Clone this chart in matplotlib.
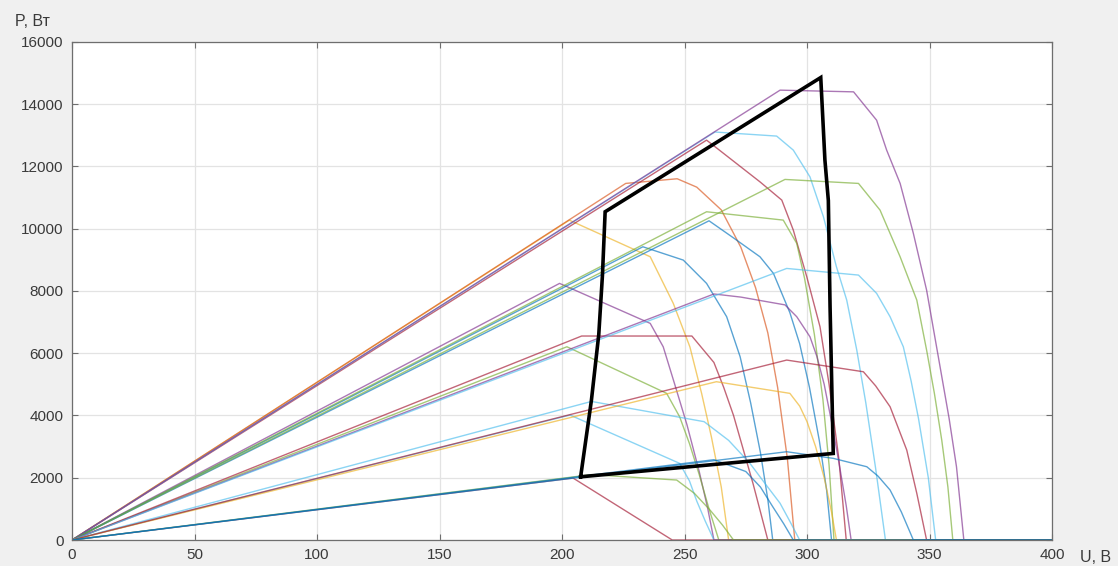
import matplotlib.pyplot as plt

# MATLAB default colour order
c_blue = '#0072BD'
c_orange = '#D95319'
c_yellow = '#EDB120'
c_purple = '#7E2F8E'
c_green = '#77AC30'
c_cyan = '#4DBEEE'
c_red = '#A2142F'

# P(U) curves, U in V, P in W
# highest irradiance
u_g1_t1 = [0, 203, 236, 245.4, 252.2, 257, 261, 265, 268, 400]
p_g1_t1 = [0, 10270, 9095, 7600, 6200, 4700, 3300, 1700, 0, 0]
u_g1_t2 = [0, 226, 247, 255, 265, 273, 279, 284, 288, 292, 295, 400]
p_g1_t2 = [0, 11450, 11600, 11330, 10600, 9400, 8100, 6650, 4900, 2600, 0, 0]
u_g1_t3 = [0, 259, 280.8, 289.7, 294.4, 299.9, 305.3, 309, 313, 316, 400]
p_g1_t3 = [0, 12840, 11500, 10914, 9951, 8452, 6847, 5000, 2600, 0, 0]
u_g1_t3b = [0, 262.4, 287.6, 294.4, 301.2, 306.7, 312, 316.2, 320.3, 324, 328, 332, 400]
p_g1_t3b = [0, 13100, 12970, 12519, 11660, 10378, 8773, 7704, 6100, 4400, 2300, 0, 0]
u_g1_t4 = [0, 289, 319, 328.4, 332.5, 338, 343.4, 348.8, 354.3, 358, 361, 364, 400]
p_g1_t4 = [0, 14445, 14390, 13480, 12519, 11450, 9845, 8025, 5563, 3900, 2353, 0, 0]

# second irradiance level
u_g2_t1 = [0, 199, 236, 241.3, 246, 251, 256, 259.5, 262, 400]
p_g2_t1 = [0, 8240, 6956, 6205, 5000, 3700, 2200, 1000, 0, 0]
u_g2_t2 = [0, 233, 249.5, 259, 267.2, 272.7, 277, 281, 284, 286, 400]
p_g2_t2 = [0, 9416, 8988, 8240, 7170, 5884, 4400, 2800, 1300, 0, 0]
u_g2_t3 = [0, 259, 290.3, 295.8, 299, 303, 306.5, 309, 311, 400]
p_g2_t3 = [0, 10540, 10272, 9524, 8400, 6600, 4500, 2400, 0, 0]
u_g2_t3b = [0, 260, 270, 280.8, 286.3, 293, 297, 301, 305, 308, 310, 400]
p_g2_t3b = [0, 10250, 9700, 9094, 8560, 7300, 6300, 4900, 3200, 1600, 0, 0]
u_g2_t4 = [0, 291, 321, 329.8, 338, 344.8, 348.8, 352, 355, 357.5, 359.5, 400]
p_g2_t4 = [0, 11578, 11450, 10593, 9094, 7704, 6100, 4700, 3200, 1700, 0, 0]

# third irradiance level
u_g3_t1 = [0, 202, 242.7, 248, 252, 256, 260, 264, 400]
p_g3_t1 = [0, 6205, 4709, 3958, 3100, 2100, 1000, 0, 0]
u_g3_t2 = [0, 208, 253, 262, 266, 270, 274, 278, 281, 284, 400]
p_g3_t2 = [0, 6550, 6550, 5700, 4900, 4000, 2900, 1800, 900, 0, 0]
u_g3_t3 = [0, 262, 273, 291, 295.8, 301.2, 304, 307, 310, 313, 316, 318, 400]
p_g3_t3 = [0, 7900, 7800, 7550, 7170, 6526, 5900, 5000, 3800, 2500, 1100, 0, 0]
u_g3_t4 = [0, 291.7, 321, 328.4, 333.9, 339.3, 342.5, 345.5, 349.5, 352.5, 400]
p_g3_t4 = [0, 8720, 8507, 7920, 7170, 6205, 5100, 3900, 2000, 0, 0]

# fourth irradiance level
u_g4_t1 = [0, 203.3, 248, 252, 255, 258.5, 262, 400]
p_g4_t1 = [0, 4012, 2462, 1900, 1250, 600, 0, 0]
u_g4_t2 = [0, 212, 258, 268, 276.7, 283, 289, 293, 297, 400]
p_g4_t2 = [0, 4450, 3800, 3200, 2462, 1800, 1180, 600, 0, 0]
u_g4_t3 = [0, 263, 293, 297, 300, 303.5, 307, 310, 312, 400]
p_g4_t3 = [0, 5083, 4709, 4300, 3800, 3000, 2000, 900, 0, 0]
u_g4_t4 = [0, 291.7, 323, 328, 333.9, 340.7, 344.8, 348.8, 400]
p_g4_t4 = [0, 5778, 5403, 4950, 4280, 2889, 1499, 0, 0]

# lowest irradiance
u_g5_t1 = [0, 204.5, 245, 400]
p_g5_t1 = [0, 1990, 0, 0]
u_g5_t2 = [0, 212, 246.8, 254, 260.4, 265.5, 270, 400]
p_g5_t2 = [0, 2100, 1926, 1500, 963, 480, 0, 0]
u_g5_t3 = [0, 262, 275, 281, 286, 290.5, 294.4, 400]
p_g5_t3 = [0, 2580, 2200, 1700, 1070, 520, 0, 0]
u_g5_t4 = [0, 291.7, 310.7, 324.4, 329, 333.9, 338.5, 343.4, 400]
p_g5_t4 = [0, 2835, 2622, 2353, 2050, 1605, 900, 0, 0]

# operating region (black outline)
u_region = [207.6, 212, 215, 216.5, 217.6, 305.6, 307.3, 308.7, 309.4, 310.7, 207.6]
p_region = [2030, 4490, 6600, 8500, 10540, 14850, 12200, 10900, 7490, 2780, 2030]

curves = [
    (u_g1_t1, p_g1_t1, c_yellow), (u_g1_t2, p_g1_t2, c_orange),
    (u_g1_t3, p_g1_t3, c_red), (u_g1_t3b, p_g1_t3b, c_cyan),
    (u_g1_t4, p_g1_t4, c_purple),
    (u_g2_t1, p_g2_t1, c_purple), (u_g2_t2, p_g2_t2, c_blue),
    (u_g2_t3, p_g2_t3, c_green), (u_g2_t3b, p_g2_t3b, c_blue),
    (u_g2_t4, p_g2_t4, c_green),
    (u_g3_t1, p_g3_t1, c_green), (u_g3_t2, p_g3_t2, c_red),
    (u_g3_t3, p_g3_t3, c_purple), (u_g3_t4, p_g3_t4, c_cyan),
    (u_g4_t1, p_g4_t1, c_cyan), (u_g4_t2, p_g4_t2, c_cyan),
    (u_g4_t3, p_g4_t3, c_yellow), (u_g4_t4, p_g4_t4, c_red),
    (u_g5_t1, p_g5_t1, c_red), (u_g5_t2, p_g5_t2, c_green),
    (u_g5_t3, p_g5_t3, c_blue), (u_g5_t4, p_g5_t4, c_blue),
]

plt.rcParams['font.family'] = ['Liberation Sans', 'DejaVu Sans']

fig = plt.figure(figsize=(11.18, 5.66), dpi=100, facecolor='#f0f0f0')
ax = fig.add_axes([0.0644, 0.0459, 0.8766, 0.8804])
ax.set_facecolor('white')

for u, p, col in curves:
    ax.plot(u, p, color=col, linewidth=1.0, alpha=0.65)

ax.plot(u_region, p_region, color='black', linewidth=2.6, solid_joinstyle='miter')

ax.set_xlim(0, 400)
ax.set_ylim(0, 16000)
ax.set_xticks(range(0, 401, 50))
ax.set_yticks(range(0, 16001, 2000))
ax.grid(True, color='#e3e3e3', linewidth=0.9)
ax.set_axisbelow(True)
ax.tick_params(direction='in', length=4, width=0.8, top=True, right=True,
               labelsize=11, colors='#6e6e6e', labelcolor='#3a3a3a', pad=6)
for s in ax.spines.values():
    s.set_color('#6e6e6e')
    s.set_linewidth(0.9)

fig.text(15 / 1118, 1 - 21 / 566, 'P, Вт', fontsize=11.5, color='#3a3a3a',
         ha='left', va='center')
fig.text(1080 / 1118, 1 - 557 / 566, 'U, В', fontsize=11.5, color='#3a3a3a',
         ha='left', va='center')

plt.savefig('out.png', dpi=100, facecolor=fig.get_facecolor())
plt.close()
